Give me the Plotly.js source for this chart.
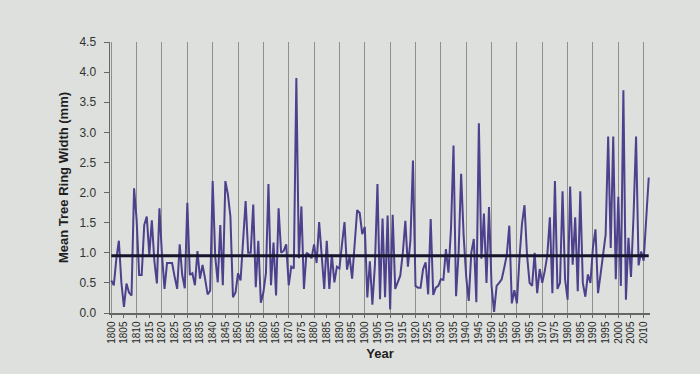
<!DOCTYPE html>
<html>
<head>
<meta charset="utf-8">
<script src="https://cdn.plot.ly/plotly-3.0.1.min.js"></script>
<style>
  html, body { margin: 0; padding: 0; background: #dde0dc; }
  #chart { width: 700px; height: 374px; }
</style>
</head>
<body>
<div id="chart"></div>
<script>
// ---- data ----
const firstYear = 1800;
const ringWidth = [
  // 1800s
  0.54, 0.46, 0.90, 1.20, 0.50, 0.10, 0.49, 0.34, 0.29, 2.07,
  // 1810s
  1.55, 0.63, 0.63, 1.46, 1.60, 0.97, 1.54, 0.86, 0.49, 1.74,
  // 1820s
  0.97, 0.40, 0.83, 0.83, 0.83, 0.60, 0.40, 1.14, 0.63, 0.41,
  // 1830s
  1.83, 0.63, 0.66, 0.46, 1.03, 0.57, 0.80, 0.57, 0.31, 0.37,
  // 1840s
  2.19, 0.94, 0.51, 1.46, 0.46, 2.19, 1.97, 1.60, 0.26, 0.34,
  // 1850s
  0.66, 0.54, 1.26, 1.86, 1.00, 1.00, 1.80, 0.43, 1.20, 0.17,
  // 1860s
  0.34, 0.66, 2.14, 0.46, 1.17, 0.29, 1.74, 1.00, 1.03, 1.14,
  // 1870s
  0.46, 0.77, 0.74, 3.90, 0.91, 1.77, 0.40, 1.00, 0.97, 0.91,
  // 1880s
  1.14, 0.83, 1.51, 0.86, 0.40, 1.20, 0.40, 0.97, 0.51, 0.77,
  // 1890s
  0.74, 1.14, 1.51, 0.72, 0.94, 0.57, 1.20, 1.71, 1.66, 1.31,
  // 1900s
  1.43, 0.26, 0.86, 0.14, 0.80, 2.14, 0.23, 1.57, 0.26, 1.62,
  // 1910s
  0.06, 1.63, 0.40, 0.51, 0.62, 1.00, 1.53, 0.77, 1.20, 2.53,
  // 1920s
  0.45, 0.42, 0.42, 0.73, 0.84, 0.31, 1.56, 0.30, 0.42, 0.45,
  // 1930s
  0.56, 0.55, 1.06, 0.67, 1.40, 2.78, 0.28, 1.00, 2.31, 1.28,
  // 1940s
  0.60, 0.20, 1.00, 1.23, 0.18, 3.15, 0.90, 1.65, 0.50, 1.76,
  // 1950s
  0.45, 0.02, 0.45, 0.50, 0.56, 0.75, 0.96, 1.45, 0.16, 0.38,
  // 1960s
  0.16, 0.90, 1.48, 1.79, 0.96, 0.50, 0.45, 1.00, 0.33, 0.73,
  // 1970s
  0.50, 0.70, 0.96, 1.59, 0.33, 2.19, 0.40, 0.50, 2.02, 0.56,
  // 1980s
  0.22, 2.10, 0.80, 1.59, 0.36, 2.02, 0.50, 0.27, 0.64, 0.50,
  // 1990s
  1.09, 1.39, 0.33, 0.64, 0.96, 1.30, 2.93, 1.08, 2.93, 0.56,
  // 2000s
  1.93, 0.45, 3.70, 0.22, 1.25, 0.60, 1.60, 2.93, 0.79, 1.02,
  // 2010s
  0.87, 1.50, 2.25
];
const years = ringWidth.map((_, i) => firstYear + i);
const meanWidth = 0.95;

const yTickVals = [0, 0.5, 1, 1.5, 2, 2.5, 3, 3.5, 4, 4.5];
const xTickVals = [];
for (let y = 1800; y <= 2010; y += 5) xTickVals.push(y);
const xTickText = xTickVals.map(String);

const xRange = [years[0] - 0.5, years[years.length - 1] + 0.5];

const traces = [
  {
    x: years, y: ringWidth, type: 'scatter', mode: 'lines',
    line: { color: '#4d408c', width: 2 },
    xaxis: 'x', yaxis: 'y', hoverinfo: 'x+y'
  },
  {
    x: [years[0], years[years.length - 1]], y: [meanWidth, meanWidth],
    type: 'scatter', mode: 'lines',
    line: { color: '#14142c', width: 3 },
    xaxis: 'x', yaxis: 'y', hoverinfo: 'skip'
  },
  // invisible trace so the labelled overlay axis renders
  { x: xRange, y: [null, null], xaxis: 'x2', yaxis: 'y', type: 'scatter', mode: 'lines', hoverinfo: 'skip' }
];

const layout = {
  width: 700, height: 374,
  margin: { l: 110, r: 50, t: 42, b: 61 },
  paper_bgcolor: '#dde0dc',
  plot_bgcolor: '#dde0dc',
  showlegend: false,
  font: { family: 'Liberation Sans, Arial, sans-serif', color: '#2a2a2a' },
  xaxis: {
    range: xRange,
    tickmode: 'linear', tick0: 1800, dtick: 10,
    showgrid: true, gridcolor: '#8d918d', gridwidth: 1,
    showticklabels: false, ticks: '',
    zeroline: false, showline: false
  },
  xaxis2: {
    overlaying: 'x', anchor: 'y', side: 'bottom',
    range: xRange,
    tickmode: 'array', tickvals: xTickVals, ticktext: xTickText,
    tickangle: -90, tickfont: { size: 10, color: '#262626' },
    ticks: 'outside', ticklen: 3, tickcolor: '#666',
    showgrid: false, zeroline: false,
    showline: true, linecolor: '#666', linewidth: 1.5,
    title: { text: '<b>Year</b>', font: { size: 13, color: '#1e1e1e' }, standoff: 6 }
  },
  yaxis: {
    range: [0, 4.5],
    tickmode: 'array', tickvals: yTickVals,
    tickformat: '.1f', tickfont: { size: 12, color: '#333' },
    ticks: 'outside', ticklen: 5, tickcolor: '#666',
    ticklabelstandoff: 5,
    showgrid: false, zeroline: false,
    showline: true, linecolor: '#666', linewidth: 1.5,
    title: { text: '<b>Mean Tree Ring Width (mm)</b>', font: { size: 13, color: '#1e1e1e' }, standoff: 8 }
  }
};

Plotly.newPlot('chart', traces, layout, { displayModeBar: false, staticPlot: true });
</script>
</body>
</html>
